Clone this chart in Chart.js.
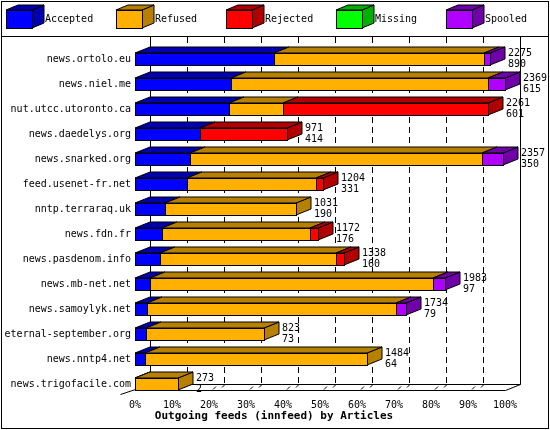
<!DOCTYPE html>
<html><head><meta charset="utf-8">
<script src="https://cdn.jsdelivr.net/npm/chart.js@4"></script>
<style>
html,body{margin:0;padding:0;background:#fff}
#wrap{position:relative;width:550px;height:430px}
canvas{display:block}
</style></head><body>
<div id="wrap"><canvas id="c" width="550" height="430"></canvas></div>
<script>
const hosts = ["news.ortolo.eu","news.niel.me","nut.utcc.utoronto.ca","news.daedelys.org","news.snarked.org","feed.usenet-fr.net","nntp.terraraq.uk","news.fdn.fr","news.pasdenom.info","news.mb-net.net","news.samoylyk.net","eternal-september.org","news.nntp4.net","news.trigofacile.com"];
const totals   = [2275,2369,2261,971,2357,1204,1031,1172,1338,1983,1734,823,1484,273];
const accepted = [890,615,601,414,350,331,190,176,160,97,79,73,64,2];
const refused  = [1342,1643,347,0,1869,828,841,946,1128,1811,1590,750,1420,271];
const rejected = [0,0,1313,557,0,45,0,50,50,0,0,0,0,0];
const missing  = [0,0,0,0,0,0,0,0,0,0,0,0,0,0];
const spooled  = [43,111,0,0,138,0,0,0,0,75,65,0,0,0];
const seriesNames = ["Accepted","Refused","Rejected","Missing","Spooled"];
const tickPercents = [0,10,20,30,40,50,60,70,80,90,100];
const axisTitle = "Outgoing feeds (innfeed) by Articles";

const front = ["#0000ff","#ffb000","#ff0000","#00ff00","#b000ff"];
const dark  = ["#0000b0","#b88000","#b00000","#00b000","#7000a8"];
const maxTotal = Math.max(...totals);
const DX = 15, DY = 6;
const FONT = "10px 'DejaVu Sans Mono', monospace";

function box3d(ctx, x0, x1, yt, yb, i, side, dx, dy) {
  dx = dx || DX; dy = dy || DY;
  ctx.lineWidth = 1; ctx.strokeStyle = "#000";
  if (side) {
    ctx.beginPath();
    ctx.moveTo(x1, yt); ctx.lineTo(x1+dx, yt-dy); ctx.lineTo(x1+dx, yb-dy); ctx.lineTo(x1, yb); ctx.closePath();
    ctx.fillStyle = dark[i]; ctx.fill(); ctx.stroke();
  }
  ctx.beginPath();
  ctx.moveTo(x0, yt); ctx.lineTo(x0+dx, yt-dy); ctx.lineTo(x1+dx, yt-dy); ctx.lineTo(x1, yt); ctx.closePath();
  ctx.fillStyle = dark[i]; ctx.fill(); ctx.stroke();
  ctx.fillStyle = front[i];
  ctx.fillRect(x0, yt, x1-x0, yb-yt);
  ctx.strokeRect(x0+0.5, yt+0.5, x1-x0, yb-yt);
}

const deco = {
  id: "deco",
  beforeDraw(chart) {
    const ctx = chart.ctx;
    ctx.save();
    ctx.fillStyle = "#fff"; ctx.fillRect(0,0,550,430);
    ctx.strokeStyle = "#000"; ctx.lineWidth = 1;
    ctx.strokeRect(1.5,1.5,547,427);
    ctx.beginPath(); ctx.moveTo(1,36.5); ctx.lineTo(549,36.5); ctx.stroke();
    ctx.font = FONT; ctx.textBaseline = "middle"; ctx.textAlign = "left";
    seriesNames.forEach((n, i) => {
      const x = 6 + i*110;
      box3d(ctx, x, x+26, 10, 28, i, true, 12, 5);
      ctx.fillStyle = "#000"; ctx.fillText(n, x+39, 19);
    });
    ctx.restore();
  },
  beforeDatasetsDraw(chart) {
    const ctx = chart.ctx, xs = chart.scales.x;
    const fy = 390.5, by = fy - DY;
    ctx.save();
    ctx.strokeStyle = "#000"; ctx.lineWidth = 1;
    ctx.setLineDash([6,4]);
    tickPercents.slice(1,-1).forEach(p => {
      const x = Math.round(xs.getPixelForValue(p/100*maxTotal)) + DX + 0.5;
      ctx.beginPath(); ctx.moveTo(x, 37); ctx.lineTo(x, by); ctx.stroke();
    });
    ctx.setLineDash([]);
    const x0 = Math.round(xs.left)+0.5, x1 = Math.round(xs.right)+0.5;
    ctx.beginPath();
    ctx.moveTo(x0+DX, 37); ctx.lineTo(x0+DX, by); ctx.lineTo(x1+DX, by); ctx.lineTo(x1+DX, 37);
    ctx.moveTo(x0+DX, by); ctx.lineTo(x0-15, fy+4);
    ctx.moveTo(x0, fy); ctx.lineTo(x1, fy); ctx.lineTo(x1+DX, by);
    ctx.stroke();
    tickPercents.slice(1,-1).forEach(p => {
      const x = Math.round(xs.getPixelForValue(p/100*maxTotal));
      ctx.beginPath(); ctx.moveTo(x+4, fy-1); ctx.lineTo(x+7, fy-4); ctx.moveTo(x+13, fy-3); ctx.lineTo(x+16, fy-6); ctx.stroke();
    });
    ctx.restore();
  },
  afterDatasetsDraw(chart) {
    const ctx = chart.ctx;
    ctx.save();
    const n = hosts.length, nd = chart.data.datasets.length;
    for (let j = 0; j < n; j++) {
      let last = -1;
      for (let i = 0; i < nd; i++) if (chart.data.datasets[i].data[j] > 0) last = i;
      let endX = 0, yc = 0;
      for (let i = 0; i < nd; i++) {
        if (!(chart.data.datasets[i].data[j] > 0)) continue;
        const el = chart.getDatasetMeta(i).data[j];
        const x0 = Math.round(el.base), x1 = Math.round(el.x);
        const yt = Math.round(el.y - el.height/2), yb = Math.round(el.y + el.height/2);
        box3d(ctx, x0, x1, yt, yb, i, i === last);
        endX = x1; yc = el.y;
      }
      ctx.font = FONT; ctx.fillStyle = "#000"; ctx.textAlign = "left"; ctx.textBaseline = "middle";
      ctx.fillText(String(totals[j]), endX + DX + 3, yc - 6);
      ctx.fillText(String(accepted[j]), endX + DX + 3, yc + 5);
    }
    ctx.font = "bold 11px 'DejaVu Sans Mono', monospace";
    ctx.textAlign = "center";
    ctx.fillText(axisTitle, 274, 416);
    ctx.restore();
  }
};

const dataArrays = [accepted, refused, rejected, missing, spooled];
new Chart(document.getElementById("c"), {
  type: "bar",
  data: {
    labels: hosts,
    datasets: seriesNames.map((n, i) => ({
      label: n, data: dataArrays[i],
      backgroundColor: "rgba(0,0,0,0)", borderWidth: 0,
      barPercentage: 0.48, categoryPercentage: 1
    }))
  },
  options: {
    indexAxis: "y", responsive: false, animation: false,
    layout: { padding: { top: 46.5, right: 45, left: 0, bottom: 0 } },
    plugins: { legend: { display: false }, tooltip: { enabled: false } },
    scales: {
      x: {
        stacked: true, min: 0, max: maxTotal,
        afterBuildTicks: s => { s.ticks = tickPercents.map(p => ({ value: p/100*maxTotal })); },
        afterFit: s => { s.height = 33.5; },
        grid: { display: false, drawTicks: false }, border: { display: false },
        ticks: { padding: 3, color: "#000", font: { family: "'DejaVu Sans Mono', monospace", size: 10 },
          callback: v => Math.round(v / maxTotal * 100) + "%", autoSkip: false, maxRotation: 0 }
      },
      y: {
        stacked: true,
        afterFit: s => { s.width = 135; },
        grid: { display: false, drawTicks: false }, border: { display: false },
        ticks: { padding: 4, color: "#000", font: { family: "'DejaVu Sans Mono', monospace", size: 10 }, autoSkip: false }
      }
    }
  },
  plugins: [deco]
});
</script>
</body></html>
